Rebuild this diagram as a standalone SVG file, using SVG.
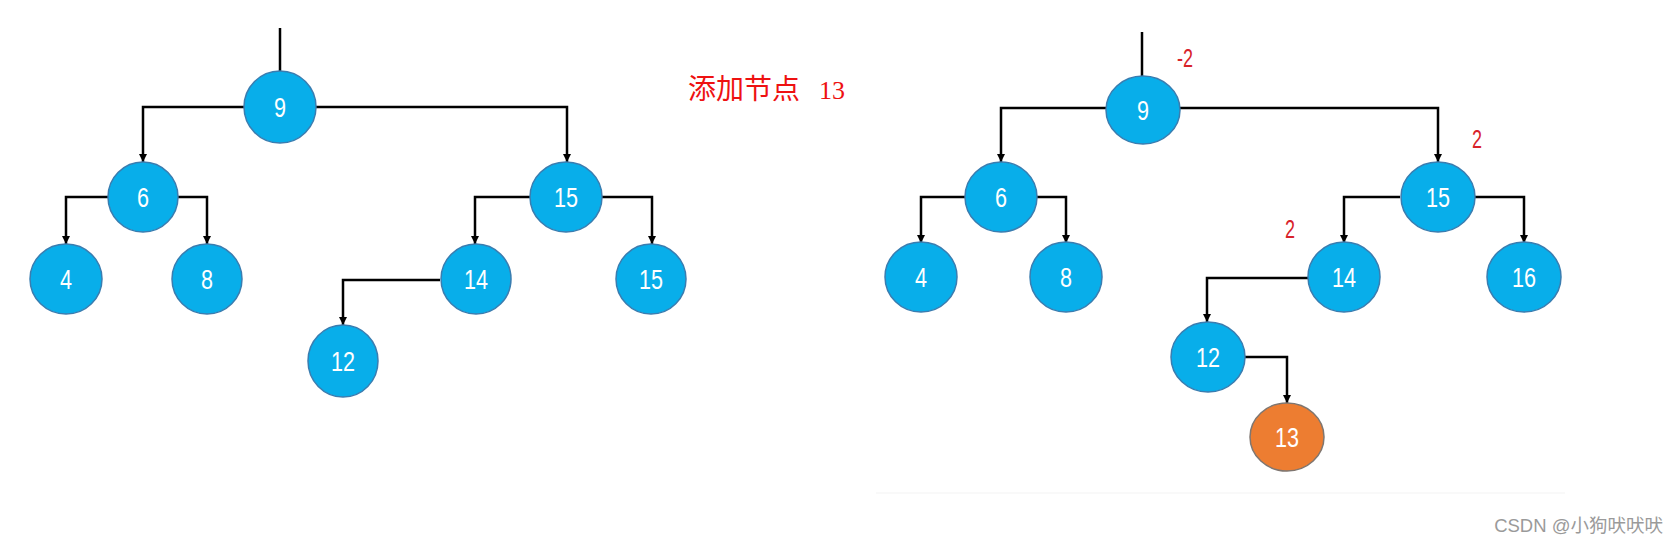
<svg xmlns="http://www.w3.org/2000/svg" width="1680" height="544" viewBox="0 0 1680 544">
<style>
.nd ellipse{fill:#08AEEA;stroke:#3A7DB0;stroke-width:1.5}
.nd.new ellipse{fill:#ED7D31;stroke:#7F7670}
.nd text{font-family:"Liberation Sans",Arial,sans-serif;font-size:27px;fill:#ffffff;text-anchor:middle}
.cn path{fill:none;stroke:#000;stroke-width:2.5}
.bf{font-family:"Liberation Sans",Arial,sans-serif;font-size:25px;fill:#D8232A;text-anchor:middle}
</style>
<defs>
<marker id="ah" viewBox="0 0 10 10" refX="10" refY="5" markerWidth="8" markerHeight="9" markerUnits="userSpaceOnUse" orient="auto">
<path d="M0,0 L10,5 L0,10 z" fill="#000"/>
</marker>
</defs>
<rect width="1680" height="544" fill="#ffffff"/>
<line x1="876" y1="493" x2="1565" y2="493" stroke="#f7f7f7" stroke-width="1.5"/>

<g id="connectors" class="cn">
<path d="M280,28 V72"/>
<path d="M245,107 H143 V162" marker-end="url(#ah)"/>
<path d="M316,107 H567 V162" marker-end="url(#ah)"/>
<path d="M108,197 H66 V244" marker-end="url(#ah)"/>
<path d="M178,197 H207 V244" marker-end="url(#ah)"/>
<path d="M530,197 H475 V244" marker-end="url(#ah)"/>
<path d="M602,197 H652 V244" marker-end="url(#ah)"/>
<path d="M440,280 H343 V325" marker-end="url(#ah)"/>

<path d="M1142,32 V76"/>
<path d="M1106,108 H1001 V162" marker-end="url(#ah)"/>
<path d="M1180,108 H1438 V162" marker-end="url(#ah)"/>
<path d="M965,197 H921 V243" marker-end="url(#ah)"/>
<path d="M1037,197 H1066 V243" marker-end="url(#ah)"/>
<path d="M1400,197 H1344 V243" marker-end="url(#ah)"/>
<path d="M1475,197 H1524 V243" marker-end="url(#ah)"/>
<path d="M1308,278 H1207 V322" marker-end="url(#ah)"/>
<path d="M1245,357 H1287 V403" marker-end="url(#ah)"/>
</g>

<g id="L9" class="nd"><ellipse cx="280" cy="107" rx="36" ry="36"/><text transform="translate(280,117) scale(0.8,1)">9</text></g>
<g id="L6" class="nd"><ellipse cx="143" cy="197" rx="35" ry="35"/><text transform="translate(143,207) scale(0.8,1)">6</text></g>
<g id="L15" class="nd"><ellipse cx="566" cy="197" rx="36" ry="35"/><text transform="translate(566,207) scale(0.8,1)">15</text></g>
<g id="L4" class="nd"><ellipse cx="66" cy="279" rx="36" ry="35"/><text transform="translate(66,289) scale(0.8,1)">4</text></g>
<g id="L8" class="nd"><ellipse cx="207" cy="279" rx="35" ry="35"/><text transform="translate(207,289) scale(0.8,1)">8</text></g>
<g id="L14" class="nd"><ellipse cx="476" cy="279" rx="35" ry="35"/><text transform="translate(476,289) scale(0.8,1)">14</text></g>
<g id="L15b" class="nd"><ellipse cx="651" cy="279" rx="35" ry="35"/><text transform="translate(651,289) scale(0.8,1)">15</text></g>
<g id="L12" class="nd"><ellipse cx="343" cy="361" rx="35" ry="36"/><text transform="translate(343,371) scale(0.8,1)">12</text></g>

<g id="R9" class="nd"><ellipse cx="1143" cy="110" rx="37" ry="34"/><text transform="translate(1143,120) scale(0.8,1)">9</text></g>
<g id="R6" class="nd"><ellipse cx="1001" cy="197" rx="36" ry="35"/><text transform="translate(1001,207) scale(0.8,1)">6</text></g>
<g id="R15" class="nd"><ellipse cx="1438" cy="197" rx="37" ry="35"/><text transform="translate(1438,207) scale(0.8,1)">15</text></g>
<g id="R4" class="nd"><ellipse cx="921" cy="277" rx="36" ry="35"/><text transform="translate(921,287) scale(0.8,1)">4</text></g>
<g id="R8" class="nd"><ellipse cx="1066" cy="277" rx="36" ry="35"/><text transform="translate(1066,287) scale(0.8,1)">8</text></g>
<g id="R14" class="nd"><ellipse cx="1344" cy="277" rx="36" ry="35"/><text transform="translate(1344,287) scale(0.8,1)">14</text></g>
<g id="R16" class="nd"><ellipse cx="1524" cy="277" rx="37" ry="35"/><text transform="translate(1524,287) scale(0.8,1)">16</text></g>
<g id="R12" class="nd"><ellipse cx="1208" cy="357" rx="37" ry="35"/><text transform="translate(1208,367) scale(0.8,1)">12</text></g>
<g id="R13" class="nd new"><ellipse cx="1287" cy="437" rx="37" ry="34"/><text transform="translate(1287,447) scale(0.8,1)">13</text></g>

<g id="balance">
<text class="bf" transform="translate(1185,67) scale(0.72,1)">-2</text>
<text class="bf" transform="translate(1477,148) scale(0.72,1)">2</text>
<text class="bf" transform="translate(1290,238) scale(0.72,1)">2</text>
</g>

<g id="title">
<text x="688" y="99" fill="#EE1111" font-family="'Liberation Serif','Noto Sans CJK SC',serif"><tspan font-size="28" font-family="'Noto Sans CJK SC',sans-serif">添加节点</tspan><tspan x="819" font-size="26">13</tspan></text>
</g>

<text x="1663" y="532" text-anchor="end" fill="#9a9a9a" font-size="18.5" font-family="'Liberation Sans','Noto Sans CJK SC',sans-serif">CSDN @小狗吠吠吠</text>
</svg>
